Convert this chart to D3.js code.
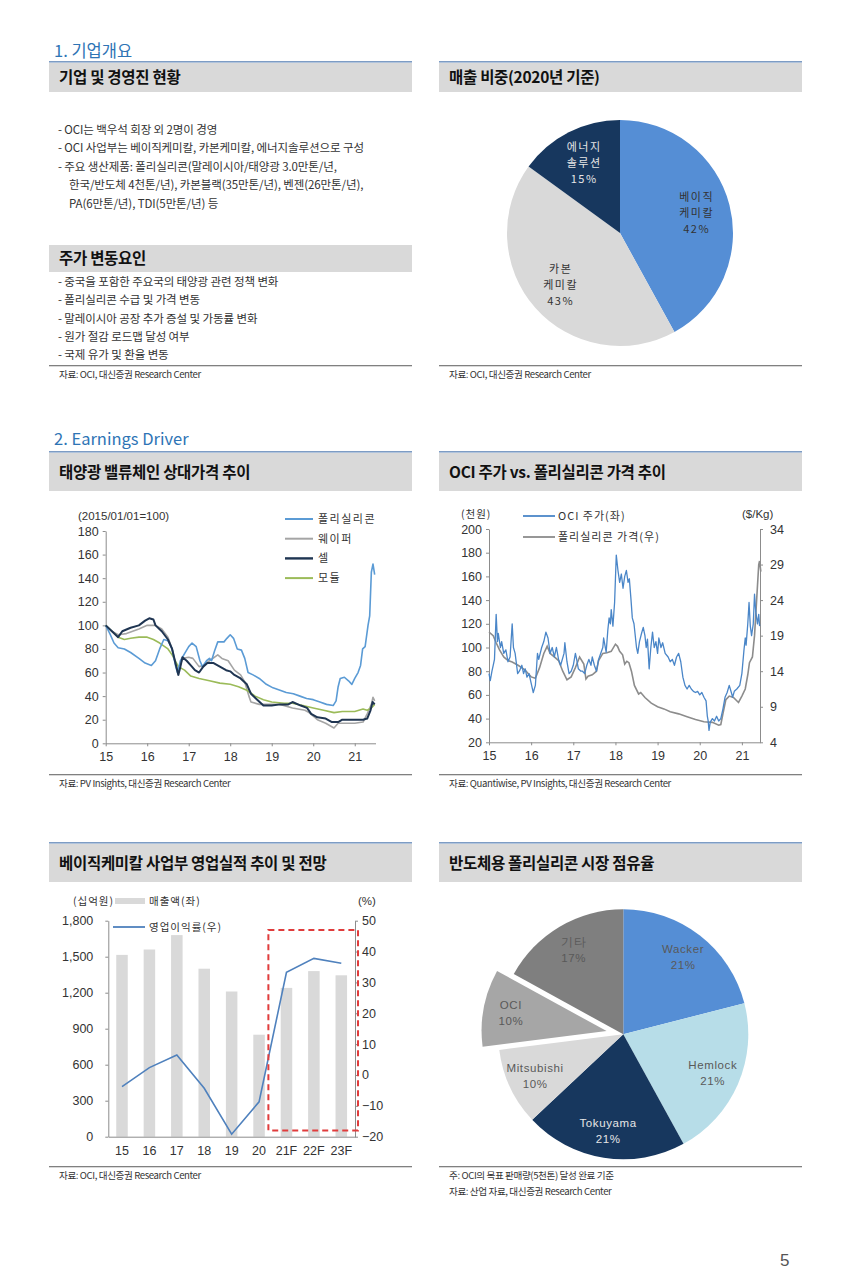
<!DOCTYPE html>
<html>
<head>
<meta charset="utf-8">
<script src="https://cdn.jsdelivr.net/npm/d3@7"></script>
<style>
body { margin: 0; background: #fff; }
svg { display: block; }
text { font-family: "Noto Sans CJK KR", "Noto Sans", sans-serif; }
.num text, text.num { font-family: "Liberation Sans", Arial, sans-serif; }
</style>
</head>
<body>
<svg id="page" width="850" height="1272"></svg>
<script>
// ---- text blocks ----
const overviewLines = [
	"- OCI는 백우석 회장 외 2명이 경영",
	"- OCI 사업부는 베이직케미칼, 카본케미칼, 에너지솔루션으로 구성",
	"- 주요 생산제품: 폴리실리콘(말레이시아/태양광 3.0만톤/년,",
	"한국/반도체 4천톤/년), 카본블랙(35만톤/년), 벤젠(26만톤/년),",
	"PA(6만톤/년), TDI(5만톤/년) 등",
];
const driverLines = [
	"- 중국을 포함한 주요국의 태양광 관련 정책 변화",
	"- 폴리실리콘 수급 및 가격 변동",
	"- 말레이시아 공장 추가 증설 및 가동률 변화",
	"- 원가 절감 로드맵 달성 여부",
	"- 국제 유가 및 환율 변동",
];

// ---- sales mix 2020 ----
const mixLabels = [["베이직", "케미칼"], ["카본", "케미칼"], ["에너지", "솔루션"]];
const mixValues = [42, 43, 15];

// ---- value chain relative prices (2015/01/01 = 100), [year, index] ----
const polyIdx = [[15.0,100],[15.1,93],[15.2,85],[15.3,81],[15.45,80],[15.6,77],[15.8,72],[15.95,68],[16.1,66],[16.2,70],[16.3,80],[16.4,88],[16.5,87],[16.6,80],[16.68,66],[16.73,60],[16.8,70],[16.9,76],[17.0,82],[17.08,85],[17.18,82],[17.27,70],[17.33,65],[17.43,70],[17.5,72],[17.55,70],[17.62,78],[17.7,86],[17.85,86],[17.92,89],[18.0,92],[18.08,89],[18.17,80],[18.27,79],[18.35,72],[18.43,60],[18.55,58],[18.7,55],[18.87,50],[19.03,47],[19.2,45],[19.35,43],[19.52,42],[19.68,40],[19.84,38],[20.0,37],[20.16,35],[20.32,33],[20.48,32],[20.55,36],[20.6,48],[20.65,55],[20.75,56],[20.85,53],[20.93,50],[21.0,55],[21.08,60],[21.14,66],[21.19,80],[21.25,82],[21.32,100],[21.36,108],[21.4,145],[21.44,152],[21.48,143]];
const waferIdx = [[15.0,100],[15.15,95],[15.3,92],[15.5,93],[15.8,97],[16.0,100],[16.2,100],[16.35,97],[16.5,90],[16.6,80],[16.7,65],[16.75,62],[16.85,72],[17.0,73],[17.1,72],[17.25,65],[17.35,66],[17.5,70],[17.7,75],[17.8,72],[17.95,70],[18.1,62],[18.25,58],[18.35,52],[18.45,40],[18.5,35],[18.7,33],[19.0,33],[19.2,33],[19.5,30],[19.8,28],[19.9,26],[20.1,20],[20.3,17],[20.5,13],[20.6,17],[21.0,17],[21.2,18],[21.3,25],[21.4,33],[21.44,39],[21.48,36]];
const cellIdx = [[15.0,100],[15.15,95],[15.3,90],[15.4,95],[15.6,98],[15.8,100],[15.95,104],[16.05,106],[16.15,105],[16.2,100],[16.35,95],[16.5,88],[16.6,80],[16.68,68],[16.75,58],[16.8,65],[16.85,73],[16.95,70],[17.05,66],[17.15,62],[17.25,60],[17.35,65],[17.45,68],[17.6,68],[17.75,65],[17.9,62],[18.0,61],[18.1,58],[18.25,55],[18.4,50],[18.5,42],[18.65,37],[18.8,32],[19.0,32],[19.2,33],[19.4,33],[19.5,35],[19.7,32],[19.85,30],[19.95,25],[20.1,22],[20.3,21],[20.45,18],[20.6,18],[20.7,20],[21.0,20],[21.2,20],[21.3,21],[21.38,28],[21.43,35],[21.48,33]];
const moduleIdx = [[15.0,100],[15.15,95],[15.3,90],[15.45,88],[15.6,89],[15.8,90],[16.0,90],[16.15,88],[16.3,85],[16.5,80],[16.6,75],[16.75,65],[16.9,62],[17.05,57],[17.25,55],[17.5,53],[17.75,51],[18.0,50],[18.2,48],[18.4,45],[18.6,40],[18.8,37],[19.0,35],[19.3,34],[19.5,34],[19.75,32],[20.0,30],[20.25,28],[20.5,26],[20.7,27],[21.0,27],[21.2,29],[21.3,28],[21.4,30],[21.48,33]];
const vcTicks = [0, 20, 40, 60, 80, 100, 120, 140, 160, 180];
const yearTicks = [15, 16, 17, 18, 19, 20, 21];

// ---- OCI share price (천원) vs polysilicon price ($/Kg) ----
const ociPrice = [[15.0,78],[15.03,72],[15.07,80],[15.1,85],[15.13,90],[15.17,128],[15.2,105],[15.22,112],[15.27,100],[15.3,105],[15.35,95],[15.4,98],[15.45,88],[15.5,92],[15.55,120],[15.58,100],[15.62,95],[15.68,78],[15.72,80],[15.78,85],[15.82,78],[15.86,82],[15.9,75],[15.95,78],[16.0,70],[16.05,62],[16.1,68],[16.15,95],[16.18,90],[16.25,100],[16.3,105],[16.35,113],[16.4,108],[16.45,95],[16.5,100],[16.55,92],[16.6,100],[16.65,90],[16.7,85],[16.78,95],[16.8,104],[16.85,88],[16.9,78],[16.95,80],[17.0,85],[17.05,95],[17.08,90],[17.12,82],[17.18,80],[17.22,80],[17.27,78],[17.32,85],[17.37,90],[17.42,85],[17.45,92],[17.5,85],[17.55,80],[17.6,90],[17.65,95],[17.7,100],[17.72,108],[17.78,96],[17.82,115],[17.85,125],[17.88,120],[17.9,132],[17.94,118],[17.98,138],[18.02,178],[18.06,165],[18.1,155],[18.14,162],[18.18,150],[18.22,160],[18.26,165],[18.3,155],[18.33,158],[18.37,140],[18.4,125],[18.44,120],[18.5,100],[18.53,95],[18.57,105],[18.62,112],[18.66,117],[18.7,110],[18.73,100],[18.76,107],[18.8,82],[18.84,100],[18.88,113],[18.92,100],[18.96,105],[19.0,95],[19.03,108],[19.08,100],[19.12,104],[19.18,95],[19.25,92],[19.3,88],[19.35,90],[19.4,85],[19.45,92],[19.5,95],[19.55,88],[19.6,75],[19.65,68],[19.7,65],[19.75,68],[19.8,65],[19.85,63],[19.9,62],[19.95,63],[20.0,60],[20.05,62],[20.1,58],[20.15,55],[20.18,42],[20.2,38],[20.22,30],[20.25,37],[20.3,40],[20.35,38],[20.4,42],[20.45,38],[20.5,40],[20.55,48],[20.6,58],[20.65,62],[20.7,68],[20.75,62],[20.78,58],[20.82,63],[20.88,65],[20.95,68],[21.0,78],[21.05,98],[21.08,108],[21.1,102],[21.14,120],[21.17,138],[21.2,118],[21.23,110],[21.27,120],[21.3,145],[21.33,130],[21.37,120],[21.4,128],[21.42,118]];
const polyPrice = [[15.0,19.5],[15.1,19.0],[15.17,18.0],[15.25,17.0],[15.35,16.0],[15.45,15.5],[15.55,15.3],[15.7,14.8],[15.85,14.2],[16.0,13.2],[16.1,13.0],[16.2,14.5],[16.3,16.5],[16.38,17.5],[16.45,16.5],[16.55,16.0],[16.65,15.5],[16.75,14.0],[16.85,12.8],[16.95,13.2],[17.05,14.5],[17.15,16.0],[17.25,15.0],[17.3,12.9],[17.35,13.3],[17.45,13.5],[17.55,14.0],[17.6,15.5],[17.7,16.5],[17.8,16.6],[17.9,16.8],[18.0,17.8],[18.05,17.5],[18.1,16.8],[18.17,16.3],[18.22,15.0],[18.27,15.4],[18.32,15.2],[18.38,14.0],[18.45,12.0],[18.55,10.8],[18.6,11.0],[18.7,10.3],[18.85,9.5],[19.0,9.0],[19.15,8.7],[19.3,8.3],[19.5,8.0],[19.7,7.6],[19.9,7.2],[20.1,6.9],[20.3,6.8],[20.45,6.4],[20.5,6.5],[20.55,8.0],[20.62,10.0],[20.7,10.5],[20.8,10.3],[20.92,9.6],[21.0,10.5],[21.08,11.5],[21.14,13.5],[21.18,15.2],[21.25,16.0],[21.3,19.0],[21.35,24.0],[21.4,29.0],[21.42,29.5],[21.45,28.0]];
const ociTicks = [20, 40, 60, 80, 100, 120, 140, 160, 180, 200];
const polyTicks = [4, 9, 14, 19, 24, 29, 34];

// ---- basic chemical division ----
const bcYears = ["15", "16", "17", "18", "19", "20", "21F", "22F", "23F"];
const bcSales = [1515, 1560, 1680, 1400, 1210, 850, 1240, 1380, 1345];
const bcMargin = [-3.8, 2.4, 6.5, -4.3, -19.2, -8.7, 33.3, 37.8, 36.2];
const bcSalesTicks = [0, 300, 600, 900, 1200, 1500, 1800];
const bcMarginTicks = [-20, -10, 0, 10, 20, 30, 40, 50];

// ---- semiconductor polysilicon share ----
const shareLabels = ["Wacker", "Hemlock", "Tokuyama", "Mitsubishi", "OCI", "기타"];
const shareValues = [21, 21, 21, 10, 10, 17];

const svg = d3.select("#page");

function sectionTitle(x, y, t) {
	svg.append("text").attr("x", x).attr("y", y)
		.attr("fill", "#2e74b5").attr("font-size", 16.5).text(t);
}

function header(x, y, w, h, title, topLine) {
	if (topLine) {
		svg.append("rect").attr("x", x).attr("y", y - 2).attr("width", w).attr("height", 1.6).attr("fill", "#7d9cc4");
	}
	svg.append("rect").attr("x", x).attr("y", y).attr("width", w).attr("height", h).attr("fill", "#d9d9d9");
	svg.append("text").attr("x", x + 10).attr("y", y + h / 2 + 5.5)
		.attr("font-size", 15.5).attr("font-weight", "bold").attr("fill", "#111")
		.attr("letter-spacing", -0.3).text(title);
}

function source(x, y, w, lines) {
	svg.append("rect").attr("x", x).attr("y", y).attr("width", w).attr("height", 1.3).attr("fill", "#808080");
	lines.forEach((t, i) => {
		svg.append("text").attr("x", x + 10).attr("y", y + 13 + i * 16)
			.attr("font-size", 9.6).attr("fill", "#333").attr("letter-spacing", -0.4).text(t);
	});
}

function bullets(lines, y0, step) {
	lines.forEach((t, i) => {
		const cont = !t.startsWith("-");
		svg.append("text").attr("x", cont ? 69 : 58).attr("y", y0 + i * step)
			.attr("font-size", 11.5).attr("fill", "#333").attr("letter-spacing", -0.1).text(t);
	});
}

function styleAxis(g) {
	g.attr("class", "num");
	g.select(".domain").attr("stroke", "#8c8c8c");
	g.selectAll(".tick line").attr("stroke", "#8c8c8c");
	g.selectAll(".tick text").attr("fill", "#333").attr("font-size", 12.5);
}

// ================= section 1 =================
sectionTitle(54, 57, "1. 기업개요");
header(49, 63, 363, 29, "기업 및 경영진 현황", true);
header(439, 63, 363, 29, "매출 비중(2020년 기준)", true);
bullets(overviewLines, 134, 18.4);
header(49, 245, 363, 27, "주가 변동요인", false);
bullets(driverLines, 286, 18.3);
source(49, 365, 363, ["자료: OCI, 대신증권 Research Center"]);
source(439, 365, 363, ["자료: OCI, 대신증권 Research Center"]);

// sales mix pie
(function () {
	const cx = 620, cy = 233, r = 113;
	const colors = ["#558ed5", "#d9d9d9", "#17375e"];
	const textColors = ["#333", "#333", "#e6e6e6"];
	const arcs = d3.pie().sort(null).value(d => d)(mixValues);
	const arc = d3.arc().innerRadius(0).outerRadius(r);
	const labelArc = d3.arc().innerRadius(r * 0.7).outerRadius(r * 0.7);
	const g = svg.append("g").attr("transform", `translate(${cx},${cy})`);
	g.selectAll("path").data(arcs).enter().append("path")
		.attr("d", arc).attr("fill", (d, i) => colors[i]);
	arcs.forEach((a, i) => {
		const [lx, ly] = labelArc.centroid(a);
		const lines = mixLabels[i].concat([mixValues[i] + "%"]);
		lines.forEach((t, j) => {
			g.append("text").attr("x", lx).attr("y", ly + (j - 1) * 16 + 4)
				.attr("text-anchor", "middle").attr("font-size", 11)
				.attr("letter-spacing", 1.5).attr("fill", textColors[i]).text(t);
		});
	});
})();

// ================= section 2 =================
sectionTitle(54, 445, "2. Earnings Driver");
header(49, 453, 363, 38, "태양광 밸류체인 상대가격 추이", true);
header(439, 453, 363, 38, "OCI 주가 vs. 폴리실리콘 가격 추이", true);
source(49, 774, 363, ["자료: PV Insights, 대신증권 Research Center"]);
source(439, 774, 363, ["자료: Quantiwise, PV Insights, 대신증권 Research Center"]);

// value chain chart
(function () {
	const x = d3.scaleLinear().domain([15, 21.5]).range([105.7, 375.5]);
	const y = d3.scaleLinear().domain([0, 180]).range([743.3, 531]);
	svg.append("g").attr("transform", "translate(105.7,0)")
		.call(d3.axisLeft(y).tickValues(vcTicks).tickSize(3).tickSizeOuter(0).tickPadding(4))
		.call(styleAxis);
	svg.append("g").attr("transform", "translate(0,743.3)")
		.call(d3.axisBottom(x).tickValues(yearTicks).tickFormat(d3.format("d")).tickSize(3).tickSizeOuter(0).tickPadding(6))
		.call(styleAxis);
	svg.append("text").attr("class", "num").attr("x", 78).attr("y", 520)
		.attr("font-size", 11.5).attr("fill", "#333").text("(2015/01/01=100)");

	const line = d3.line().x(d => x(d[0])).y(d => y(d[1]));
	const series = [
		{ name: "폴리실리콘", data: polyIdx, color: "#5b9bd5", w: 1.6 },
		{ name: "웨이퍼", data: waferIdx, color: "#a5a5a5", w: 1.6 },
		{ name: "셀", data: cellIdx, color: "#1f3552", w: 2 },
		{ name: "모듈", data: moduleIdx, color: "#9bbb59", w: 1.6 },
	];
	[1, 3, 0, 2].forEach(i => {
		const s = series[i];
		svg.append("path").datum(s.data).attr("d", line)
			.attr("fill", "none").attr("stroke", s.color).attr("stroke-width", s.w)
			.attr("stroke-linejoin", "round");
	});
	series.forEach((s, i) => {
		const ly = 519 + i * 19.7;
		svg.append("line").attr("x1", 285).attr("x2", 313).attr("y1", ly).attr("y2", ly)
			.attr("stroke", s.color).attr("stroke-width", s.w + 0.4);
		svg.append("text").attr("x", 318).attr("y", ly + 4).attr("font-size", 11)
			.attr("letter-spacing", 1.5).attr("fill", "#333").text(s.name);
	});
})();

// OCI vs polysilicon
(function () {
	const x = d3.scaleLinear().domain([15, 21.43]).range([489, 760]);
	const yL = d3.scaleLinear().domain([20, 200]).range([742.3, 529]);
	const yR = d3.scaleLinear().domain([4, 34]).range([742.3, 529]);
	svg.append("g").attr("transform", "translate(489,0)")
		.call(d3.axisLeft(yL).tickValues(ociTicks).tickSize(3).tickSizeOuter(0).tickPadding(4))
		.call(styleAxis);
	svg.append("g").attr("transform", "translate(760,0)")
		.call(d3.axisRight(yR).tickValues(polyTicks).tickSize(3).tickSizeOuter(0).tickPadding(7))
		.call(styleAxis);
	svg.append("g").attr("transform", "translate(0,742.3)")
		.call(d3.axisBottom(x).tickValues(yearTicks).tickFormat(d3.format("d")).tickSize(3).tickSizeOuter(0).tickPadding(6))
		.call(styleAxis);
	svg.append("text").attr("x", 461).attr("y", 518).attr("font-size", 10.5)
		.attr("letter-spacing", 1).attr("fill", "#333").text("(천원)");
	svg.append("text").attr("class", "num").attr("x", 742).attr("y", 518).attr("font-size", 11.5)
		.attr("fill", "#333").text("($/Kg)");

	svg.append("path").datum(polyPrice)
		.attr("d", d3.line().x(d => x(d[0])).y(d => yR(d[1])))
		.attr("fill", "none").attr("stroke", "#8c8c8c").attr("stroke-width", 1.6);
	svg.append("path").datum(ociPrice)
		.attr("d", d3.line().x(d => x(d[0])).y(d => yL(d[1])))
		.attr("fill", "none").attr("stroke", "#4a86c8").attr("stroke-width", 1.3)
		.attr("stroke-linejoin", "round");

	const leg = [["OCI 주가(좌)", "#4a86c8"], ["폴리실리콘 가격(우)", "#8c8c8c"]];
	leg.forEach((l, i) => {
		const ly = 516 + i * 21;
		svg.append("line").attr("x1", 523).attr("x2", 555).attr("y1", ly).attr("y2", ly)
			.attr("stroke", l[1]).attr("stroke-width", 1.8);
		svg.append("text").attr("x", 558).attr("y", ly + 4).attr("font-size", 11)
			.attr("letter-spacing", 1).attr("fill", "#333").text(l[0]);
	});
})();

// ================= section 3 =================
header(49, 844, 363, 38, "베이직케미칼 사업부 영업실적 추이 및 전망", true);
header(439, 844, 363, 38, "반도체용 폴리실리콘 시장 점유율", true);
source(49, 1166, 363, ["자료: OCI, 대신증권 Research Center"]);
source(439, 1166, 363, ["주: OCI의 목표 판매량(5천톤) 달성 완료 기준", "자료: 산업 자료, 대신증권 Research Center"]);

// basic chemical bars + margin
(function () {
	const x = d3.scaleBand().domain(bcYears).range([108.3, 355]).paddingInner(0.58).paddingOuter(0.29);
	const yL = d3.scaleLinear().domain([0, 1800]).range([1136.7, 920.7]);
	const yR = d3.scaleLinear().domain([-20, 50]).range([1136.7, 920.7]);

	svg.selectAll(".bcbar").data(bcSales).enter().append("rect").attr("class", "bcbar")
		.attr("x", (d, i) => x(bcYears[i])).attr("width", x.bandwidth())
		.attr("y", d => yL(d)).attr("height", d => yL(0) - yL(d)).attr("fill", "#d9d9d9");

	svg.append("g").attr("transform", "translate(108.3,0)")
		.call(d3.axisLeft(yL).tickValues(bcSalesTicks).tickFormat(d3.format(",")).tickSize(3).tickSizeOuter(0).tickPadding(12))
		.call(styleAxis);
	svg.append("g").attr("transform", "translate(355,0)")
		.call(d3.axisRight(yR).tickValues(bcMarginTicks).tickSize(3).tickSizeOuter(0).tickPadding(4))
		.call(styleAxis);
	svg.append("g").attr("transform", "translate(0,1136.7)")
		.call(d3.axisBottom(x).tickSize(0).tickPadding(9))
		.call(styleAxis);

	svg.append("path").datum(bcMargin)
		.attr("d", d3.line().x((d, i) => x(bcYears[i]) + x.bandwidth() / 2).y(d => yR(d)))
		.attr("fill", "none").attr("stroke", "#4f81bd").attr("stroke-width", 1.6);

	// forecast box
	const bx0 = x("21F") - x.step() * 0.45, bx1 = x("23F") + x.bandwidth() + x.step() * 0.4;
	svg.append("rect").attr("x", bx0).attr("y", yR(47)).attr("width", bx1 - bx0).attr("height", yR(-18) - yR(47))
		.attr("fill", "none").attr("stroke", "#e03c3c").attr("stroke-width", 2).attr("stroke-dasharray", "6,4");

	svg.append("text").attr("x", 73).attr("y", 905).attr("font-size", 10.5)
		.attr("letter-spacing", 1).attr("fill", "#333").text("(십억원)");
	svg.append("rect").attr("x", 115).attr("y", 898).attr("width", 30).attr("height", 6).attr("fill", "#d9d9d9");
	svg.append("text").attr("x", 149).attr("y", 905).attr("font-size", 10.5)
		.attr("letter-spacing", 1).attr("fill", "#333").text("매출액(좌)");
	svg.append("text").attr("class", "num").attr("x", 358).attr("y", 905).attr("font-size", 11.5)
		.attr("fill", "#333").text("(%)");
	svg.append("line").attr("x1", 113).attr("x2", 145).attr("y1", 927).attr("y2", 927)
		.attr("stroke", "#4f81bd").attr("stroke-width", 1.8);
	svg.append("text").attr("x", 149).attr("y", 931).attr("font-size", 10.5)
		.attr("letter-spacing", 1).attr("fill", "#333").text("영업이익률(우)");
})();

// market share pie
(function () {
	const cx = 623.3, cy = 1034.3, r = 125, explode = 17;
	const colors = ["#558ed5", "#b7dde8", "#17375e", "#d9d9d9", "#a6a6a6", "#7f7f7f"];
	const textColors = ["#595959", "#595959", "#e6e6e6", "#595959", "#595959", "#595959"];
	const arcs = d3.pie().sort(null).value(d => d)(shareValues);
	const arc = d3.arc().innerRadius(0).outerRadius(r);
	const labelArc = d3.arc().innerRadius(r * 0.78).outerRadius(r * 0.78);
	const g = svg.append("g").attr("transform", `translate(${cx},${cy})`);
	arcs.forEach((a, i) => {
		const mid = (a.startAngle + a.endAngle) / 2;
		const off = shareLabels[i] === "OCI" ? explode : 0;
		const dx = Math.sin(mid) * off, dy = -Math.cos(mid) * off;
		const sg = g.append("g").attr("transform", `translate(${dx},${dy})`);
		sg.append("path").attr("d", arc(a)).attr("fill", colors[i]);
		const [lx, ly] = labelArc.centroid(a);
		[shareLabels[i], shareValues[i] + "%"].forEach((t, j) => {
			sg.append("text").attr("class", "num").attr("x", lx).attr("y", ly + (j - 0.5) * 16 + 4)
				.attr("text-anchor", "middle").attr("font-size", 11.5)
				.attr("letter-spacing", 0.6).attr("fill", textColors[i]).text(t);
		});
	});
})();

// page number
svg.append("text").attr("class", "num").attr("x", 780).attr("y", 1266)
	.attr("font-size", 17).attr("fill", "#555").text("5");
</script>
</body>
</html>
